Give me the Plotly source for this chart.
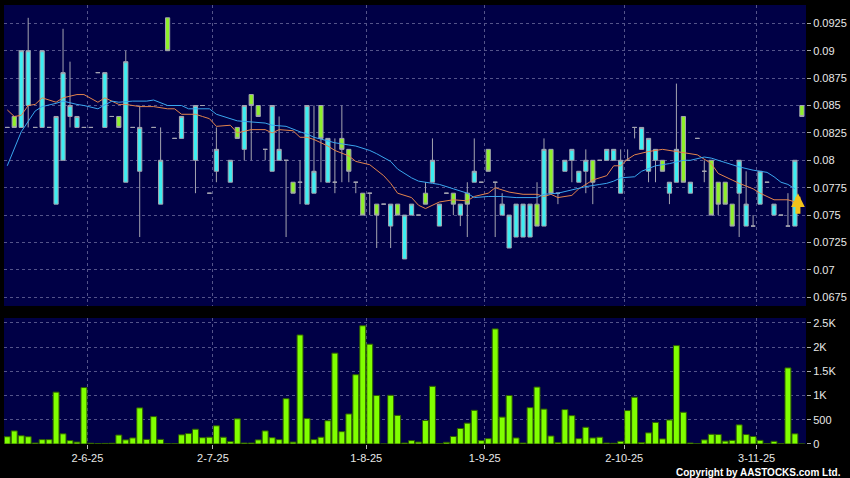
import plotly.graph_objects as go

# ---------------- data ----------------
n_days = 115
day_idx = list(range(n_days))

open_ = [0.083,0.084,0.083,0.085,0.083,0.083,0.083,0.076,0.080,0.084,
         0.083,0.083,0.083,0.088,0.083,0.084,0.084,0.078,0.083,0.079,
         None,0.083,0.076,0.093,0.082,0.082,None,0.080,0.085,0.077,
         0.079,None,0.078,0.083,0.081,0.086,0.085,0.081,0.079,0.080,
         0.080,0.078,0.078,0.076,0.077,0.085,0.078,0.078,0.082,0.081,
         0.078,0.077,0.077,0.076,0.076,0.074,0.076,0.071,0.075,0.075,
         0.077,0.078,0.074,0.077,0.077,0.075,0.077,0.078,0.078,0.081,
         0.078,0.075,0.072,0.073,0.073,0.073,0.076,0.074,0.081,0.077,
         0.079,0.080,0.078,0.079,0.080,0.080,0.080,0.080,0.077,0.080,
         0.083,0.081,0.079,0.080,0.080,0.077,0.078,0.084,0.077,0.082,
         0.079,0.080,0.078,0.078,0.076,0.077,0.074,0.074,0.076,0.078,
         0.075,0.075,0.074,0.074,0.085]
high = [0.083,0.084,0.090,0.093,0.083,0.090,0.083,0.084,0.092,0.089,
        0.084,0.083,0.083,0.088,0.088,0.084,0.084,0.090,0.083,0.085,
        None,0.083,0.083,0.093,0.082,0.084,None,0.085,0.085,0.077,
        0.083,None,0.080,0.083,0.085,0.086,0.085,0.081,0.085,0.084,
        0.080,0.078,0.080,0.085,0.085,0.085,0.082,0.082,0.085,0.081,
        0.078,0.077,0.077,0.076,0.076,0.076,0.076,0.075,0.076,0.075,
        0.078,0.082,0.076,0.077,0.077,0.076,0.078,0.082,0.078,0.081,
        0.078,0.077,0.075,0.076,0.076,0.076,0.078,0.082,0.081,0.077,
        0.080,0.081,0.079,0.081,0.080,0.080,0.081,0.081,0.081,0.081,
        0.083,0.083,0.082,0.081,0.080,0.078,0.087,0.084,0.078,0.082,
        0.080,0.080,0.078,0.078,0.076,0.080,0.079,0.075,0.079,0.078,
        0.076,0.075,0.077,0.080,0.085]
low = [0.083,0.083,0.083,0.083,0.083,0.083,0.083,0.076,0.080,0.083,
       0.083,0.083,0.083,0.088,0.083,0.084,0.083,0.078,0.083,0.073,
       None,0.083,0.076,0.090,0.082,0.082,None,0.077,0.085,0.077,
       0.078,None,0.078,0.082,0.080,0.080,0.084,0.080,0.079,0.080,
       0.073,0.077,0.076,0.076,0.077,0.078,0.078,0.077,0.078,0.078,
       0.077,0.075,0.075,0.072,0.076,0.072,0.075,0.071,0.075,0.075,
       0.076,0.078,0.074,0.077,0.075,0.074,0.073,0.078,0.078,0.079,
       0.073,0.075,0.072,0.073,0.073,0.073,0.074,0.074,0.077,0.076,
       0.079,0.078,0.078,0.077,0.076,0.080,0.080,0.080,0.077,0.080,
       0.082,0.081,0.078,0.078,0.079,0.076,0.078,0.078,0.077,0.082,
       0.078,0.075,0.075,0.076,0.074,0.073,0.074,0.074,0.076,0.078,
       0.075,0.075,0.074,0.074,0.084]
close = [0.083,0.083,0.090,0.090,0.083,0.090,0.083,0.084,0.088,0.085,
         0.084,0.083,0.083,0.088,0.088,0.084,0.083,0.089,0.083,0.083,
         None,0.083,0.080,0.090,0.082,0.084,None,0.085,0.085,0.077,
         0.081,None,0.080,0.082,0.085,0.085,0.084,0.081,0.085,0.081,
         0.080,0.077,0.078,0.085,0.079,0.082,0.082,0.078,0.081,0.079,
         0.078,0.075,0.077,0.075,0.076,0.076,0.075,0.075,0.076,0.075,
         0.076,0.080,0.076,0.077,0.076,0.076,0.076,0.079,0.078,0.079,
         0.078,0.076,0.075,0.076,0.076,0.076,0.074,0.081,0.077,0.077,
         0.080,0.081,0.079,0.080,0.078,0.080,0.081,0.081,0.080,0.080,
         0.083,0.083,0.082,0.081,0.079,0.078,0.081,0.078,0.078,0.082,
         0.079,0.075,0.076,0.076,0.074,0.080,0.076,0.074,0.079,0.078,
         0.076,0.075,0.074,0.080,0.084]

volume = [150,270,170,150,20,90,90,1070,210,70,
          40,1165,15,8,12,15,185,85,125,745,
          95,565,95,5,5,190,215,305,130,140,
          375,140,50,520,20,20,85,270,130,90,
          935,40,2250,525,90,140,480,1875,255,620,
          1430,2440,2060,1000,0,1005,590,20,70,40,
          485,1190,10,35,155,320,430,695,70,110,
          2375,555,1000,125,20,750,1175,720,165,30,
          710,585,110,345,125,140,20,15,55,690,
          965,30,230,445,105,495,2030,655,20,5,
          85,200,195,60,75,395,195,155,75,5,
          55,5,1570,210,0]

ma_short_idx = [0,1,2,3,4,5,7,8,10,11,13,14,16,17,19,21,23,24,25,27,28,29,30,32,33,35,37,38,39,
                41,42,43,44,46,47,49,50,52,54,55,56,58,59,60,62,64,66,67,69,70,72,74,76,77,78,79,
                81,82,84,86,87,88,89,90,92,94,96,98,99,101,102,104,105,107,108,109,110,112,113]
ma_short = [0.0846,0.0840,0.0841,0.0850,0.0851,0.0857,0.0853,0.0857,0.0860,0.0860,0.0853,0.0857,
            0.0851,0.0851,0.0849,0.0849,0.0847,0.0847,0.0842,0.0842,0.0840,0.0838,0.0831,0.0832,
            0.0825,0.0828,0.0828,0.0825,0.0828,0.0827,0.0821,0.0821,0.0819,0.0813,0.0809,0.0804,
            0.0799,0.0796,0.0786,0.0779,0.0770,0.0766,0.0759,0.0756,0.0762,0.0764,0.0763,0.0767,
            0.0770,0.0775,0.0771,0.0769,0.0769,0.0767,0.0769,0.0766,0.0768,0.0774,0.0782,0.0786,
            0.0795,0.0795,0.0801,0.0805,0.0808,0.0810,0.0808,0.0806,0.0805,0.0797,0.0788,0.0782,
            0.0779,0.0774,0.0770,0.0767,0.0764,0.0764,0.0762]

ma_long_idx = [0,1,2,4,5,7,8,10,11,13,15,16,18,20,21,23,25,26,29,30,31,33,35,37,38,40,42,43,44,
               47,49,50,52,53,55,56,58,59,61,62,64,66,67,69,71,73,76,77,79,81,83,85,86,87,88,90,
               91,93,95,97,98,100,101,103,105,107,109,110,111,112,113]
ma_long = [0.0795,0.0811,0.0826,0.0845,0.0849,0.0852,0.0854,0.0851,0.0850,0.0847,0.0854,0.0853,
           0.0854,0.0854,0.0855,0.0850,0.0850,0.0847,0.0847,0.0842,0.0840,0.0836,0.0835,0.0834,
           0.0832,0.0831,0.0826,0.0824,0.0821,0.0816,0.0814,0.0813,0.0809,0.0806,0.0799,0.0792,
           0.0784,0.0781,0.0779,0.0778,0.0774,0.0770,0.0766,0.0767,0.0767,0.0766,0.0766,0.0769,
           0.0770,0.0773,0.0776,0.0778,0.0779,0.0781,0.0784,0.0785,0.0790,0.0795,0.0797,0.0800,
           0.0800,0.0803,0.0802,0.0798,0.0794,0.0791,0.0789,0.0785,0.0780,0.0778,0.0774]

tick_day_idx = [12, 30, 52, 69, 89, 108]
tick_labels = ["2-6-25", "2-7-25", "1-8-25", "1-9-25", "2-10-25", "3-11-25"]

price_ticks = [0.0675, 0.07, 0.0725, 0.075, 0.0775, 0.08, 0.0825, 0.085, 0.0875, 0.09, 0.0925]
price_tick_labels = ["0.0675", "0.07", "0.0725", "0.075", "0.0775", "0.08", "0.0825",
                     "0.085", "0.0875", "0.09", "0.0925"]
vol_ticks = [0, 500, 1000, 1500, 2000, 2500]
vol_tick_labels = ["0", "500", "1K", "1.5K", "2K", "2.5K"]

signal_idx = 113
signal_price = 0.0770

# ---------------- styling ----------------
FONT = "Liberation Sans, Arial, sans-serif"
GRID = "#54548a"
BG = "#000046"
tickpos = [i - 0.5 for i in tick_day_idx]

fig = go.Figure()
fig.add_trace(go.Candlestick(
    x=day_idx, open=open_, high=high, low=low, close=close,
    xaxis="x", yaxis="y", whiskerwidth=0, showlegend=False,
    increasing=dict(fillcolor="#3ceef2", line=dict(color="#a4a4b0", width=1)),
    decreasing=dict(fillcolor="#8ef02a", line=dict(color="#a4a4b0", width=1)),
))
fig.add_trace(go.Scatter(x=ma_short_idx, y=ma_short, mode="lines", xaxis="x", yaxis="y",
                         line=dict(color="#e3844c", width=1), showlegend=False))
fig.add_trace(go.Scatter(x=ma_long_idx, y=ma_long, mode="lines", xaxis="x", yaxis="y",
                         line=dict(color="#3aa6ee", width=1), showlegend=False))
fig.add_trace(go.Bar(x=day_idx, y=volume, xaxis="x2", yaxis="y2", showlegend=False,
                     marker=dict(color="#80ff00", line=dict(color="#2f5f00", width=1))))

fig.add_annotation(x=signal_idx, y=signal_price, xref="x", yref="y", ax=0, ay=22,
                   showarrow=True, arrowhead=2, arrowsize=0.55, arrowwidth=5,
                   arrowcolor="#f2c21a", standoff=0, xshift=3, text="")
fig.add_annotation(x=1.0465, y=-0.064, xref="paper", yref="paper", showarrow=False,
                   xanchor="right", yanchor="middle",
                   text="<b>Copyright by AASTOCKS.com Ltd.</b>",
                   font=dict(family=FONT, size=10, color="#ffffff"))

axis_common = dict(showline=False, zeroline=False, gridcolor=GRID, griddash="3px,3px", gridwidth=1)
fig.update_layout(
    width=850, height=478,
    margin=dict(l=4, r=44, t=5, b=34),
    paper_bgcolor="#000000", plot_bgcolor=BG,
    font=dict(family=FONT, size=11, color="#e8e8e8"),
    bargap=0.15, boxgap=0.14,
    xaxis=dict(domain=[0, 1], anchor="y", range=[-0.47, 114.59], tickvals=tickpos,
               showticklabels=False, ticks="", showgrid=True,
               rangeslider=dict(visible=False), **axis_common),
    xaxis2=dict(domain=[0, 1], anchor="y2", matches="x", tickvals=tickpos, ticktext=tick_labels,
                ticks="outside", ticklen=4, tickcolor="#bbbbbb", showgrid=True,
                tickfont=dict(size=11, color="#e8e8e8"), **axis_common),
    yaxis=dict(domain=[0.3144, 1], anchor="x", side="right", range=[0.06671, 0.09417],
               tickvals=price_ticks, ticktext=price_tick_labels, ticks="outside", ticklen=4,
               tickcolor="#aaaaaa", showgrid=True, tickfont=dict(size=11, color="#e8e8e8"),
               **axis_common),
    yaxis2=dict(domain=[0, 0.287], anchor="x2", side="right", range=[0, 2600],
                tickvals=vol_ticks, ticktext=vol_tick_labels, ticks="outside", ticklen=4,
                tickcolor="#aaaaaa", showgrid=True, tickfont=dict(size=11, color="#e8e8e8"),
                **axis_common),
)

fig.write_html("out.html", config={"displayModeBar": False},
               post_script="document.body.style.margin='0';document.body.style.background='#000';")
